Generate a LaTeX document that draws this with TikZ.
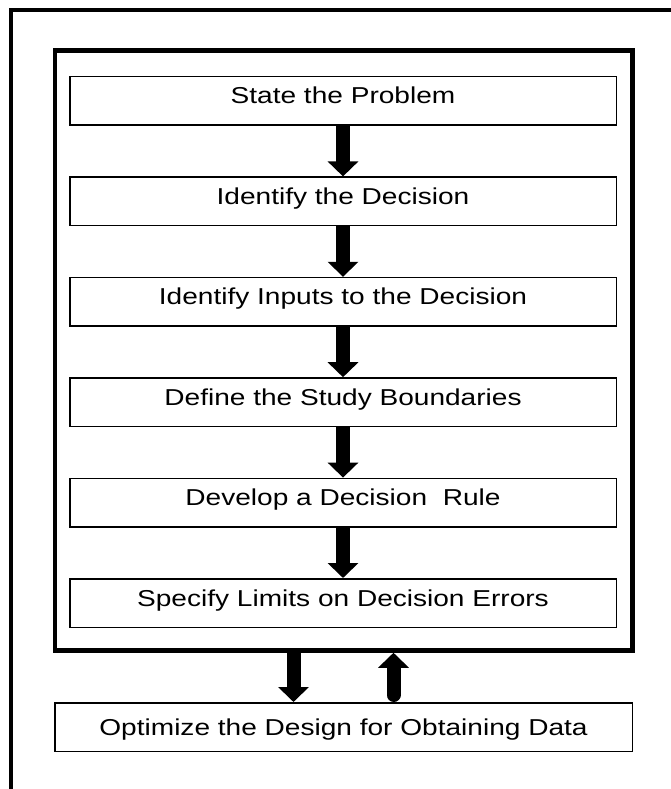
\documentclass[tikz,border=0pt]{standalone}
\usepackage{fontspec}
\setmainfont{Liberation Sans}
\usepackage{tikz}
\usetikzlibrary{arrows.meta,positioning}

\newcommand{\widetext}[1]{\scalebox{1.22}[1]{#1}}
\tikzset{
stepbox/.style={draw,line width=1.5pt,minimum width=546.5pt,minimum height=48.5pt,inner sep=0pt,text height=11pt,text depth=5pt,font=\fontsize{23}{27}\selectfont},
flow/.style={line width=14pt,-{Triangle[length=15pt,width=30pt]}}
}

\begin{document}
\begin{tikzpicture}[x=1pt,y=-1pt]
\useasboundingbox (0,0) rectangle (670,789);
% open outer frame
\draw[line width=4pt] (11,800) -- (11,10) -- (680,10);
\node[draw,line width=4.5pt,minimum width=577.5pt,minimum height=600pt] (loop) at (343.5,350.5) {};
\node[stepbox] (S1) at (343,101) {\widetext{State the Problem}};
\node[stepbox] (S2) at (343,201.4) {\widetext{Identify the Decision}};
\node[stepbox] (S3) at (343,301.8) {\widetext{Identify Inputs to the Decision}};
\node[stepbox] (S4) at (343,402.2) {\widetext{Define the Study Boundaries}};
\node[stepbox] (S5) at (343,502.6) {\widetext{Develop a Decision\ \ Rule}};
\node[stepbox] (S6) at (343,603) {\widetext{Specify Limits on Decision Errors}};
\node[stepbox,minimum width=577.5pt,text height=16pt,text depth=0pt] (Opt) at (343.5,727) {\widetext{Optimize the Design for Obtaining Data}};
\path[flow]
(S1) edge (S2)
(S2) edge (S3)
(S3) edge (S4)
(S4) edge (S5)
(S5) edge (S6);
\draw[flow] ([xshift=-50pt]loop.south) -- ([xshift=-50pt]Opt.north);
\draw[flow,line cap=round,shorten <=7pt] ([xshift=50pt]Opt.north) -- ([xshift=50pt]loop.south);
\end{tikzpicture}
\end{document}
